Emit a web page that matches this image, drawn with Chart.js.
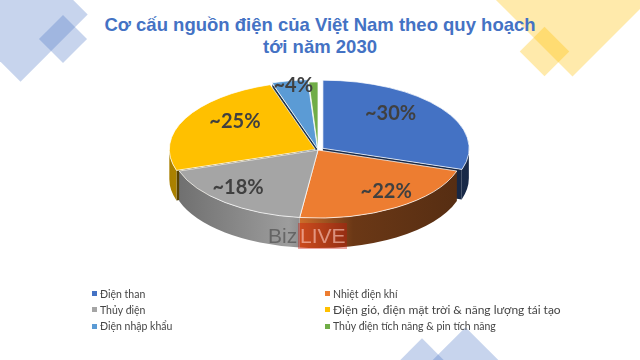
<!DOCTYPE html>
<html>
<head>
<meta charset="utf-8">
<script src="https://cdn.jsdelivr.net/npm/chart.js@4.4.0/dist/chart.umd.min.js"></script>
<style>
    body { margin: 0; background: #fff; }
    .wrap { position: relative; width: 640px; height: 360px; overflow: hidden; }
    .deco { position: absolute; transform: rotate(45deg); }
    .blue { background: rgba(68, 114, 196, 0.3); }
    .yellow { background: rgba(255, 192, 0, 0.33); }
    #title {
        position: absolute; top: 13.5px; left: 0; width: 640px; text-align: center;
        font: bold 18.5px "Liberation Sans", Arial, sans-serif; line-height: 22px; color: #4472c4;
    }
    #chartBox { position: absolute; left: 0; top: 0; width: 640px; height: 360px; }
    #legend {
        position: absolute; left: 92px; top: 285.5px;
        display: grid; grid-template-columns: 233px 280px;
        font: 10.5px Lato, "Open Sans", sans-serif; color: #454545;
    }
    .item { height: 16.3px; display: flex; align-items: center; white-space: nowrap; }
    .item.big { font-size: 12px; }
    .sw { width: 5px; height: 5px; margin-right: 3px; flex: none; }
    .mark { position: absolute; top: 223px; height: 26px; font: 21px "Liberation Sans", Arial, sans-serif; line-height: 26px; }
</style>
</head>
<body>
<div class="wrap">
    <div class="deco blue" style="left:-27px;top:-33px;width:95px;height:95px"></div>
    <div class="deco blue" style="left:46px;top:22px;width:34px;height:34px"></div>
    <div class="deco yellow" style="left:518px;top:-55px;width:109px;height:109px"></div>
    <div class="deco yellow" style="left:527px;top:34px;width:35px;height:35px"></div>
    <div class="deco blue" style="left:401px;top:347px;width:42px;height:42px"></div>
    <div class="deco blue" style="left:437px;top:339px;width:57px;height:57px"></div>

    <div id="title">Cơ cấu nguồn điện của Việt Nam theo quy hoạch<br>tới năm 2030</div>
    <div id="chartBox"><canvas id="pieChart"></canvas></div>

    <div class="mark" style="left:268px;color:rgba(60,60,60,0.55)">Biz</div>
    <div class="mark" style="left:298px;width:49px;padding-left:2px;box-sizing:border-box;background:rgba(200,20,10,0.38);color:rgba(255,205,195,0.6)">LIVE</div>

    <div id="legend"></div>
</div>

<script>
// Power mix by 2030 (approximate shares, %)
const categories = [
    'Điện than',
    'Nhiệt điện khí',
    'Thủy điện',
    'Điện gió, điện mặt trời & năng lượng tái tạo',
    'Điện nhập khẩu',
    'Thủy điện tích năng & pin tích năng'
];
const shares = [30, 22, 18, 25, 4, 1];
const shareLabels = ['~30%', '~22%', '~18%', '~25%', '~4%', ''];
const sliceColors = ['#4472c4', '#ed7d31', '#a5a5a5', '#ffc000', '#5b9bd5', '#70ad47'];
const explode = [24, 0, 0, 12, 12, 0];

const TILT = 0.466;   // flattening of the top face
const DEPTH = 30;     // thickness of the pie

function shade(hex, f) {
    const n = parseInt(hex.slice(1), 16);
    const r = Math.round(((n >> 16) & 255) * f);
    const g = Math.round(((n >> 8) & 255) * f);
    const b = Math.round((n & 255) * f);
    return 'rgb(' + r + ',' + g + ',' + b + ')';
}

// slice centre after explode shift, as seen on screen
function sliceCenter(arc) {
    const off = (arc.options.offset || 0) / 4;
    const mid = (arc.startAngle + arc.endAngle) / 2;
    return { x: arc.x + Math.cos(mid) * off, y: arc.y + Math.sin(mid) * off * TILT, mid: mid };
}

const pie3d = {
    id: 'pie3d',
    beforeDatasetsDraw(chart) {
        const ctx = chart.ctx;
        const arcs = chart.getDatasetMeta(0).data;

        // cut faces of exploded slices
        arcs.forEach((arc, i) => {
            if (!arc.options.offset) return;
            const c = sliceCenter(arc);
            const r = arc.outerRadius, ry = r * TILT;
            [[arc.startAngle, -1], [arc.endAngle, 1]].forEach(([a, s]) => {
                if (Math.sin(a + s * Math.PI / 2) <= 0) return;
                const ex = c.x + Math.cos(a) * r, ey = c.y + Math.sin(a) * ry;
                ctx.beginPath();
                ctx.moveTo(c.x, c.y);
                ctx.lineTo(ex, ey);
                ctx.lineTo(ex, ey + DEPTH);
                ctx.lineTo(c.x, c.y + DEPTH);
                ctx.closePath();
                ctx.fillStyle = shade(sliceColors[i], 0.35);
                ctx.fill();
            });
        });

        // outer walls (front half only)
        arcs.forEach((arc, i) => {
            const a0 = Math.max(arc.startAngle, 0);
            const a1 = Math.min(arc.endAngle, Math.PI);
            if (a1 <= a0) return;
            const c = sliceCenter(arc);
            const r = arc.outerRadius, ry = r * TILT;
            const g = ctx.createLinearGradient(c.x - r, 0, c.x + r, 0);
            g.addColorStop(0, shade(sliceColors[i], 0.66));
            g.addColorStop(0.4, shade(sliceColors[i], 0.95));
            g.addColorStop(0.46, shade(sliceColors[i], 0.82));
            g.addColorStop(0.62, shade(sliceColors[i], 0.45));
            g.addColorStop(1, shade(sliceColors[i], 0.36));
            ctx.beginPath();
            ctx.ellipse(c.x, c.y, r, ry, 0, a0, a1);
            ctx.ellipse(c.x, c.y + DEPTH, r, ry, 0, a1, a0, true);
            ctx.closePath();
            ctx.fillStyle = g;
            ctx.fill();
        });

        // squash the top face into an ellipse
        const cy = arcs[0].y;
        ctx.save();
        ctx.translate(0, cy);
        ctx.scale(1, TILT);
        ctx.translate(0, -cy);
    },
    afterDatasetsDraw(chart) {
        const ctx = chart.ctx;
        ctx.restore();
        const arcs = chart.getDatasetMeta(0).data;
        ctx.save();
        ctx.font = 'bold 20px Lato, "Open Sans", sans-serif';
        ctx.fillStyle = '#404040';
        ctx.textAlign = 'center';
        ctx.textBaseline = 'middle';
        arcs.forEach((arc, i) => {
            if (!shareLabels[i]) return;
            const mid = (arc.startAngle + arc.endAngle) / 2;
            const r = arc.outerRadius;
            const small = shares[i] < 5;
            const fx = small ? 1.2 : 0.72;
            const fy = small ? 0.9 : 0.8;
            const px = arc.x + Math.cos(mid) * r * fx * (1 + 0.25 * Math.sin(mid));
            const py = arc.y + Math.sin(mid) * r * TILT * fy - 4;
            ctx.fillText(shareLabels[i], px, py);
        });
        ctx.restore();
    }
};

const ctx = document.getElementById('pieChart').getContext('2d');
const pieChart = new Chart(ctx, {
    type: 'pie',
    data: {
        labels: categories,
        datasets: [{
            data: shares,
            backgroundColor: sliceColors,
            borderColor: '#ffffff',
            borderWidth: 1,
            offset: explode,
            hoverOffset: 0
        }]
    },
    options: {
        responsive: true,
        maintainAspectRatio: false,
        animation: false,
        events: [],
        radius: 146,
        layout: { padding: { left: 0, right: 4, top: 0, bottom: 60 } },
        plugins: {
            legend: { display: false },
            tooltip: { enabled: false }
        }
    },
    plugins: [pie3d]
});

// Legend in two columns, same order as the data
const legend = document.getElementById('legend');
categories.forEach((name, i) => {
    const item = document.createElement('div');
    item.className = 'item' + (i === 3 ? ' big' : '');
    item.innerHTML = '<span class="sw" style="background:' + sliceColors[i] + '"></span>' + name;
    legend.appendChild(item);
});
</script>
</body>
</html>
